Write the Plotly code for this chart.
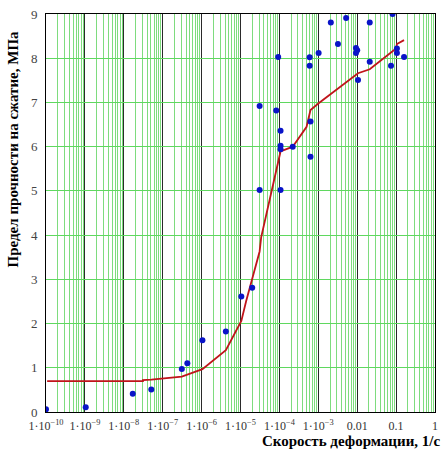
import plotly.graph_objects as go

# Measured compressive strength vs. strain rate
rate = [1.0e-10, 1.05e-9, 1.7e-8, 5.1e-8, 3.1e-7, 4.3e-7, 1.05e-6, 4.2e-6,
        1.05e-5, 2.0e-5, 3.1e-5, 1.07e-4, 3.1e-5, 8.3e-5, 9.3e-5, 1.07e-4,
        1.07e-4, 1.07e-4, 2.2e-4, 6.3e-4, 6.3e-4, 6.0e-4, 6.0e-4, 1.02e-3,
        2.1e-3, 3.2e-3, 5.2e-3, 9.3e-3, 0.0100, 9.3e-3, 0.0105, 0.021,
        0.021, 0.074, 0.081, 0.105, 0.105, 0.16]
strength = [0.06, 0.11, 0.41, 0.51, 0.97, 1.10, 1.62, 1.82,
            2.61, 2.81, 5.02, 5.02, 6.92, 6.82, 8.03, 6.36,
            6.02, 5.94, 6.00, 6.57, 5.77, 8.02, 7.83, 8.12,
            8.81, 8.32, 8.91, 8.23, 8.18, 8.12, 7.51, 8.81,
            7.92, 7.83, 9.00, 8.22, 8.12, 8.03]

# Approximating curve
fit_rate = [1.07e-10, 3.1e-8, 3.1e-8, 5.1e-8, 3.1e-7, 1.05e-6, 4.2e-6,
            1.05e-5, 1.4e-5, 3.1e-5, 3.4e-5, 1.07e-4, 2.2e-4, 5.0e-4,
            5.5e-4, 6.3e-4, 1.02e-3, 0.0105, 0.021, 0.10, 0.105, 0.16]
fit_strength = [0.70, 0.70, 0.72, 0.73, 0.80, 0.97, 1.40,
                2.06, 2.51, 3.63, 3.95, 5.89, 6.00, 6.45,
                6.61, 6.83, 6.98, 7.66, 7.75, 8.22, 8.32, 8.41]

x_tickvals = [1e-10, 1e-9, 1e-8, 1e-7, 1e-6, 1e-5, 1e-4, 1e-3, 0.01, 0.1, 1]
x_ticktext = ["1·10<sup>−10</sup>", "1·10<sup>−9</sup>", "1·10<sup>−8</sup>",
              "1·10<sup>−7</sup>", "1·10<sup>−6</sup>", "1·10<sup>−5</sup>",
              "1·10<sup>−4</sup>", "1·10<sup>−3</sup>", "0.01", "0.1", "1"]
y_tickvals = list(range(0, 10))

serif = "Liberation Serif, Times New Roman, serif"

fig = go.Figure()
fig.add_trace(go.Scatter(
    x=fit_rate, y=fit_strength, mode="lines",
    line=dict(color="#c0141a", width=1.8), hoverinfo="skip"))
fig.add_trace(go.Scatter(
    x=rate, y=strength, mode="markers",
    marker=dict(color="#0a14c8", size=6, line=dict(width=0))))

fig.update_layout(
    width=445, height=452,
    margin=dict(l=46, r=7, t=12, b=40),
    paper_bgcolor="white", plot_bgcolor="white",
    showlegend=False,
    font=dict(family=serif, size=12, color="#333333"),
)
fig.update_xaxes(
    type="log", range=[-10, 0],
    tickvals=x_tickvals, ticktext=x_ticktext,
    showgrid=True, gridcolor="#2a2a2a", gridwidth=1,
    minor=dict(dtick="D1", showgrid=True, gridcolor="#7edc7e", gridwidth=1.3),
    showline=True, linecolor="black", linewidth=1, mirror=True,
    ticks="", zeroline=False, ticklabelstandoff=3,
    tickfont=dict(family=serif, size=12, color="#333333"),
)
fig.update_yaxes(
    range=[0, 9], tickvals=y_tickvals,
    showgrid=True, gridcolor="#5fd85f", gridwidth=1.4,
    showline=True, linecolor="black", linewidth=1, mirror=True,
    ticks="", zeroline=False, ticklabelstandoff=5,
    tickfont=dict(family=serif, size=13, color="#444444"),
)

fig.add_annotation(
    text="<b>Предел прочности на сжатие, МПа</b>",
    xref="paper", yref="paper", x=-0.085, y=0.662,
    xanchor="center", yanchor="middle", textangle=-90, showarrow=False,
    font=dict(family=serif, size=15, color="black"))
fig.add_annotation(
    text="<b>Скорость деформации, 1/с</b>",
    xref="paper", yref="paper", x=1.018, y=-0.048,
    xanchor="right", yanchor="top", showarrow=False,
    font=dict(family=serif, size=15, color="black"))

fig.write_html("out.html")
